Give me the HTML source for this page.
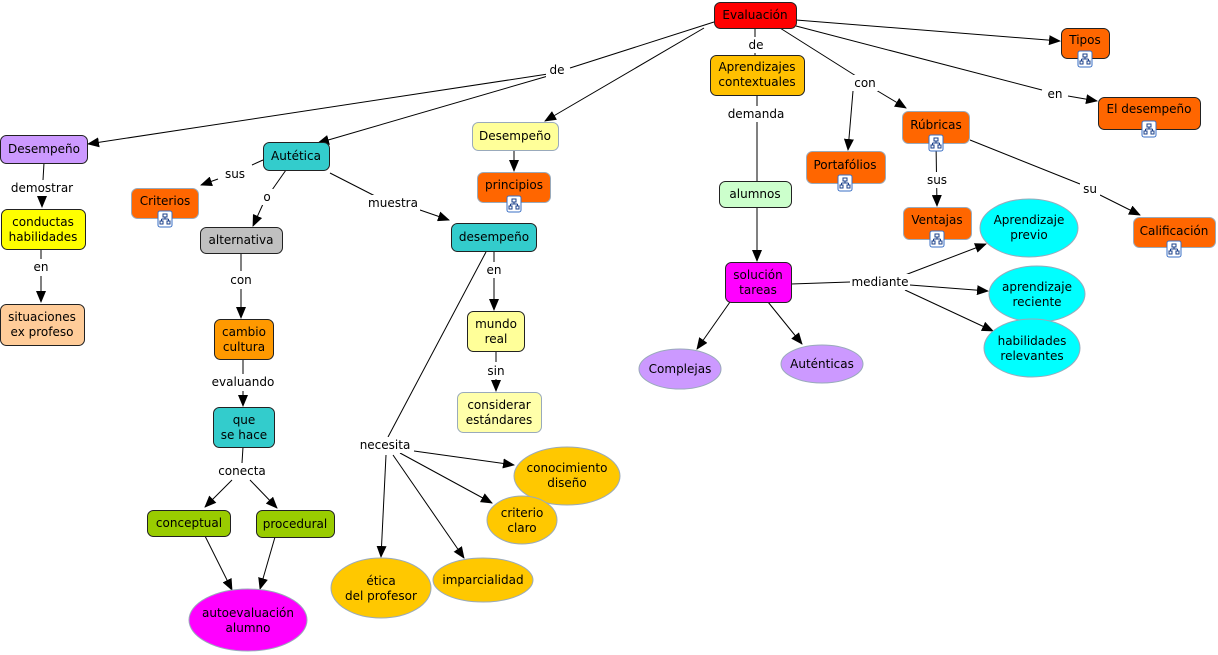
<!DOCTYPE html>
<html><head><meta charset="utf-8"><style>
html,body{margin:0;padding:0;background:#fff;}
svg{display:block;font-family:"DejaVu Sans","Liberation Sans",sans-serif;font-size:12px;}
.l{stroke:#000;stroke-width:1;fill:none}
.a{marker-end:url(#m)}
.lb{fill:#fff}
text{fill:#000;text-anchor:middle;dominant-baseline:central}
.n{stroke:#222;stroke-width:1}
.e{stroke:#9ab;stroke-width:1}
</style></head><body>
<svg width="1218" height="655" viewBox="0 0 1218 655" xmlns="http://www.w3.org/2000/svg">
<defs>
<marker id="m" markerWidth="12" markerHeight="10" refX="11" refY="5" orient="auto" markerUnits="userSpaceOnUse"><path d="M0,0 L12,5 L0,10 Z" fill="#000"/></marker>
<g id="ic"><rect x="-7" y="-8" width="14" height="16" rx="2" fill="#fff" stroke="#3a6fc4"/><path d="M-2,-5h4v3h-4z M-5,2h3v3h-3z M2,2h3v3h-3z M0,-2v2 M-3.5,0h7 M-3.5,0v2 M3.5,0v2" fill="none" stroke="#1a3f8a" stroke-width="1"/></g>
</defs>
<!-- lines -->
<g class="l">
<line x1="714" y1="22" x2="570" y2="68"/>
<line x1="548" y1="74" x2="88" y2="144" class="l a"/>
<line x1="548" y1="76" x2="318" y2="143" class="l a"/>
<line x1="704" y1="28" x2="545" y2="121" class="l a"/>
<line x1="755" y1="28" x2="755" y2="55"/>
<line x1="780" y1="28" x2="856" y2="76"/>
<line x1="853" y1="91" x2="848" y2="150" class="l a"/>
<line x1="876" y1="90" x2="906" y2="108" class="l a"/>
<line x1="796" y1="26" x2="1042" y2="90"/>
<line x1="1068" y1="96" x2="1097" y2="101" class="l a"/>
<line x1="796" y1="20" x2="1060" y2="41" class="l a"/>
<line x1="757" y1="95" x2="757" y2="181"/>
<line x1="757" y1="207" x2="757" y2="261" class="l a"/>
<line x1="936" y1="143" x2="937" y2="206" class="l a"/>
<line x1="970" y1="140" x2="1080" y2="184"/>
<line x1="1100" y1="195" x2="1140" y2="215" class="l a"/>
<line x1="791" y1="284" x2="850" y2="282"/>
<line x1="905" y1="275" x2="986" y2="244" class="l a"/>
<line x1="910" y1="285" x2="988" y2="291" class="l a"/>
<line x1="905" y1="290" x2="993" y2="331" class="l a"/>
<line x1="730" y1="302" x2="697" y2="349" class="l a"/>
<line x1="768" y1="302" x2="802" y2="344" class="l a"/>
<line x1="514" y1="150" x2="514" y2="171" class="l a"/>
<line x1="494" y1="251" x2="494" y2="262"/>
<line x1="494" y1="278" x2="494" y2="310" class="l a"/>
<line x1="496" y1="351" x2="496" y2="362"/>
<line x1="496" y1="379" x2="496" y2="391" class="l a"/>
<line x1="486" y1="252" x2="388" y2="437"/>
<line x1="414" y1="451" x2="514" y2="465" class="l a"/>
<line x1="400" y1="453" x2="492" y2="503" class="l a"/>
<line x1="393" y1="455" x2="464" y2="558" class="l a"/>
<line x1="386" y1="455" x2="381" y2="557" class="l a"/>
<line x1="263" y1="160" x2="252" y2="165"/>
<line x1="218" y1="179" x2="201" y2="185" class="l a"/>
<line x1="286" y1="170" x2="272" y2="190"/>
<line x1="263" y1="204" x2="253" y2="226" class="l a"/>
<line x1="330" y1="173" x2="375" y2="196"/>
<line x1="420" y1="210" x2="449" y2="220" class="l a"/>
<line x1="241" y1="253" x2="241" y2="271"/>
<line x1="241" y1="289" x2="241" y2="318" class="l a"/>
<line x1="243" y1="359" x2="243" y2="374"/>
<line x1="243" y1="391" x2="243" y2="406" class="l a"/>
<line x1="243" y1="447" x2="242" y2="463"/>
<line x1="232" y1="480" x2="205" y2="507" class="l a"/>
<line x1="250" y1="480" x2="277" y2="508" class="l a"/>
<line x1="205" y1="536" x2="232" y2="590" class="l a"/>
<line x1="275" y1="537" x2="260" y2="589" class="l a"/>
<line x1="44" y1="163" x2="43" y2="180"/>
<line x1="42" y1="196" x2="42" y2="207" class="l a"/>
<line x1="41" y1="249" x2="41" y2="259"/>
<line x1="41" y1="276" x2="41" y2="302" class="l a"/>
</g>
<!-- link labels -->
<g>
<rect class="lb" x="546" y="62" width="22" height="16"/><text x="557" y="70">de</text>
<rect class="lb" x="745" y="37" width="22" height="16"/><text x="756" y="45">de</text>
<rect class="lb" x="852" y="75" width="26" height="16"/><text x="865" y="83">con</text>
<rect class="lb" x="1044" y="86" width="22" height="16"/><text x="1055" y="94">en</text>
<rect class="lb" x="727" y="106" width="58" height="16"/><text x="756" y="114">demanda</text>
<rect class="lb" x="924" y="172" width="26" height="16"/><text x="937" y="180">sus</text>
<rect class="lb" x="1080" y="181" width="20" height="16"/><text x="1090" y="189">su</text>
<rect class="lb" x="850" y="274" width="60" height="16"/><text x="880" y="282">mediante</text>
<rect class="lb" x="484" y="262" width="20" height="16"/><text x="494" y="270">en</text>
<rect class="lb" x="485" y="363" width="22" height="16"/><text x="496" y="371">sin</text>
<rect class="lb" x="357" y="437" width="56" height="16"/><text x="385" y="445">necesita</text>
<rect class="lb" x="221" y="166" width="28" height="16"/><text x="235" y="174">sus</text>
<rect class="lb" x="260" y="189" width="14" height="16"/><text x="267" y="197">o</text>
<rect class="lb" x="366" y="195" width="54" height="16"/><text x="393" y="203">muestra</text>
<rect class="lb" x="228" y="272" width="26" height="16"/><text x="241" y="280">con</text>
<rect class="lb" x="210" y="374" width="66" height="16"/><text x="243" y="382">evaluando</text>
<rect class="lb" x="215" y="463" width="54" height="16"/><text x="242" y="471">conecta</text>
<rect class="lb" x="9" y="180" width="66" height="16"/><text x="42" y="188">demostrar</text>
<rect class="lb" x="31" y="259" width="20" height="16"/><text x="41" y="267">en</text>
</g>
<!-- nodes -->
<g>
<rect class="n" x="714.5" y="2.5" width="82" height="26" rx="6" fill="#ff0000"/><text x="755" y="15" fill="#300">Evaluación</text>
<rect class="n" x="1061.5" y="28.5" width="48" height="30" rx="6" fill="#ff6600"/><text x="1085" y="40">Tipos</text><use href="#ic" x="1085" y="59"/>
<rect class="n" x="1098.5" y="97.5" width="102" height="32" rx="6" fill="#ff6600"/><text x="1149" y="109">El desempeño</text><use href="#ic" x="1149" y="129"/>
<rect class="n" x="710.5" y="55.5" width="94" height="40" rx="6" fill="#ffc000"/><text x="757" y="67">Aprendizajes</text><text x="757" y="82">contextuales</text>
<rect class="e" x="902.5" y="111.5" width="67" height="32" rx="6" fill="#ff6600"/><text x="936" y="125">Rúbricas</text><use href="#ic" x="936" y="143"/>
<rect class="e" x="806.5" y="151.5" width="79" height="32" rx="6" fill="#ff6600"/><text x="845" y="165">Portafólios</text><use href="#ic" x="845" y="183"/>
<rect class="e" x="903.5" y="207.5" width="68" height="32" rx="6" fill="#ff6600"/><text x="937" y="220">Ventajas</text><use href="#ic" x="937" y="239"/>
<rect class="e" x="1133.5" y="217.5" width="82" height="30" rx="6" fill="#ff6600"/><text x="1174" y="231">Calificación</text><use href="#ic" x="1174" y="249"/>
<rect class="n" x="719.5" y="181.5" width="72" height="26" rx="6" fill="#ccffcc"/><text x="755" y="194">alumnos</text>
<rect class="n" x="725.5" y="262.5" width="66" height="40" rx="6" fill="#ff00ff"/><text x="758" y="275">solución</text><text x="758" y="290">tareas</text>
<ellipse class="e" cx="1029" cy="228" rx="49" ry="29" fill="#00ffff"/><text x="1029" y="220">Aprendizaje</text><text x="1029" y="235">previo</text>
<ellipse class="e" cx="1037" cy="294" rx="48" ry="28" fill="#00ffff"/><text x="1037" y="287">aprendizaje</text><text x="1037" y="302">reciente</text>
<ellipse class="e" cx="1032" cy="348" rx="48" ry="29" fill="#00ffff"/><text x="1032" y="341">habilidades</text><text x="1032" y="356">relevantes</text>
<ellipse class="e" cx="680" cy="369" rx="41" ry="20" fill="#cc99ff"/><text x="680" y="369">Complejas</text>
<ellipse class="e" cx="822" cy="364" rx="41" ry="19" fill="#cc99ff"/><text x="822" y="364">Auténticas</text>
<rect class="e" x="472.5" y="122.5" width="86" height="28" rx="6" fill="#ffff99"/><text x="515" y="136">Desempeño</text>
<rect class="e" x="477.5" y="172.5" width="73" height="30" rx="6" fill="#ff6600"/><text x="514" y="185">principios</text><use href="#ic" x="514" y="204"/>
<rect class="n" x="451.5" y="223.5" width="85" height="28" rx="6" fill="#33cccc"/><text x="494" y="237">desempeño</text>
<rect class="n" x="467.5" y="311.5" width="57" height="40" rx="6" fill="#ffff99"/><text x="496" y="324">mundo</text><text x="496" y="339">real</text>
<rect class="e" x="457.5" y="392.5" width="84" height="40" rx="6" fill="#ffffaa"/><text x="499" y="405">considerar</text><text x="499" y="420">estándares</text>
<ellipse class="e" cx="567" cy="476" rx="53" ry="29" fill="#ffc800"/><text x="567" y="468">conocimiento</text><text x="567" y="483">diseño</text>
<ellipse class="e" cx="522" cy="520" rx="35" ry="24" fill="#ffc800"/><text x="522" y="513">criterio</text><text x="522" y="528">claro</text>
<ellipse class="e" cx="381" cy="588" rx="50" ry="30" fill="#ffc800"/><text x="381" y="581">ética</text><text x="381" y="596">del profesor</text>
<ellipse class="e" cx="483" cy="580" rx="50" ry="22" fill="#ffc800"/><text x="483" y="580">imparcialidad</text>
<rect class="n" x="263.5" y="142.5" width="66" height="28" rx="6" fill="#33cccc"/><text x="296" y="156">Autética</text>
<rect class="e" x="131.5" y="188.5" width="67" height="30" rx="6" fill="#ff6600"/><text x="165" y="201">Criterios</text><use href="#ic" x="165" y="219"/>
<rect class="n" x="200.5" y="227.5" width="82" height="26" rx="6" fill="#c0c0c0"/><text x="241" y="240">alternativa</text>
<rect class="n" x="214.5" y="319.5" width="59" height="40" rx="6" fill="#ff9900"/><text x="244" y="332">cambio</text><text x="244" y="347">cultura</text>
<rect class="n" x="213.5" y="407.5" width="61" height="40" rx="6" fill="#33cccc"/><text x="244" y="420">que</text><text x="244" y="435">se hace</text>
<rect class="n" x="147.5" y="510.5" width="83" height="26" rx="6" fill="#99cc00"/><text x="189" y="523">conceptual</text>
<rect class="n" x="256.5" y="510.5" width="78" height="27" rx="6" fill="#99cc00"/><text x="295" y="524">procedural</text>
<ellipse class="e" cx="248" cy="620" rx="59" ry="31" fill="#ff00ff"/><text x="248" y="613">autoevaluación</text><text x="248" y="628">alumno</text>
<rect class="n" x="0.5" y="135.5" width="87" height="28" rx="6" fill="#cc99ff"/><text x="44" y="149">Desempeño</text>
<rect class="n" x="1.5" y="209.5" width="84" height="40" rx="6" fill="#ffff00"/><text x="43" y="222">conductas</text><text x="43" y="237">habilidades</text>
<rect class="n" x="0.5" y="304.5" width="84" height="41" rx="6" fill="#ffcc99"/><text x="42" y="317">situaciones</text><text x="42" y="332">ex profeso</text>
</g>
</svg>
</body></html>
